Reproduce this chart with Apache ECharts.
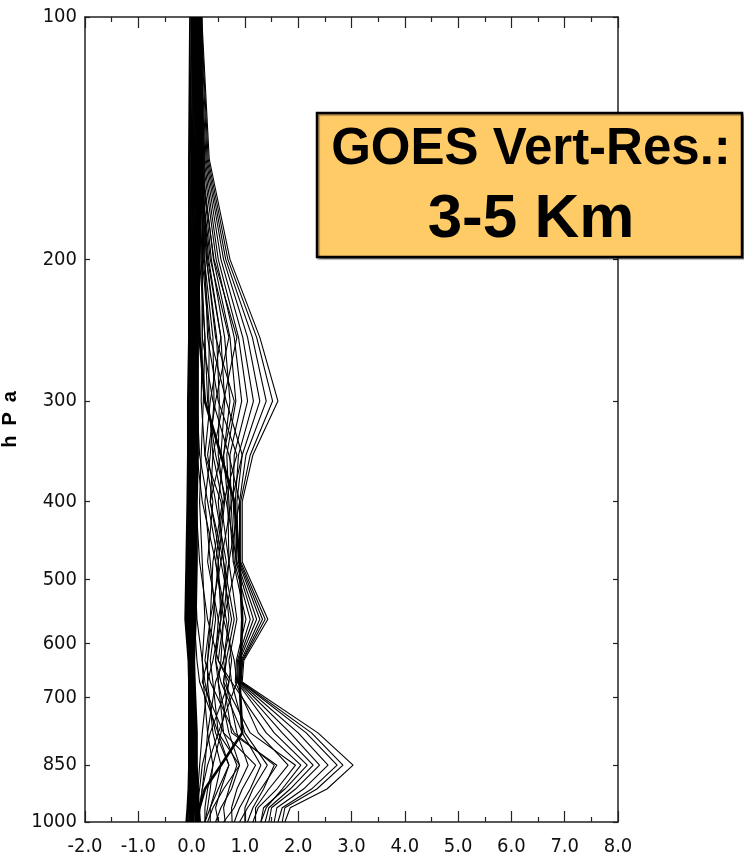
<!DOCTYPE html>
<html>
<head>
<meta charset="utf-8">
<title>GOES weighting functions</title>
<script src="https://cdn.jsdelivr.net/npm/echarts@6/dist/echarts.min.js"></script>
<style>
  html, body { margin: 0; padding: 0; background: #ffffff; }
  #chart { width: 744px; height: 863px; }
</style>
</head>
<body>
<div id="chart"></div>
<script>
// Pressure levels (hPa) shared by every curve
const levels = [100, 150, 200, 250, 300, 350, 400, 475, 560, 630, 670, 775, 850, 910, 960, 1000];

// Axis ticks / labels
const xTicks = [-2, -1, 0, 1, 2, 3, 4, 5, 6, 7, 8];
const pressureTicks = [100, 200, 300, 400, 500, 600, 700, 850, 1000];

// Near-zero curves forming the dark band along x = 0
const b01 = [-0.03, -0.05, -0.05, -0.05, -0.07, -0.07, -0.08, -0.10, -0.12, -0.06, -0.05, -0.05, -0.05, -0.06, -0.08, -0.10];
const b02 = [0.00, -0.03, -0.03, -0.04, -0.05, -0.05, -0.06, -0.08, -0.10, -0.05, -0.04, -0.04, -0.04, -0.05, -0.06, -0.08];
const b03 = [0.02, 0.00, -0.02, -0.02, -0.03, -0.03, -0.04, -0.06, -0.08, -0.04, -0.03, -0.03, -0.03, -0.03, -0.04, -0.05];
const b04 = [0.04, 0.02, 0.00, -0.01, -0.01, -0.02, -0.03, -0.04, -0.06, -0.03, -0.02, -0.02, -0.02, -0.02, -0.02, -0.03];
const b05 = [0.06, 0.04, 0.02, 0.01, 0.00, 0.00, -0.01, -0.02, -0.04, -0.02, -0.01, -0.01, 0.00, -0.01, 0.00, -0.01];
const b06 = [0.08, 0.06, 0.03, 0.02, 0.02, 0.01, 0.00, -0.01, -0.02, -0.01, 0.00, 0.00, 0.01, 0.01, 0.02, 0.02];
const b07 = [0.10, 0.08, 0.05, 0.04, 0.03, 0.03, 0.02, 0.01, 0.00, 0.00, 0.01, 0.02, 0.02, 0.03, 0.04, 0.04];
const b08 = [0.12, 0.10, 0.07, 0.05, 0.05, 0.04, 0.03, 0.02, 0.01, 0.01, 0.02, 0.03, 0.04, 0.05, 0.06, 0.07];
const b09 = [0.14, 0.12, 0.08, 0.07, 0.07, 0.06, 0.05, 0.04, 0.03, 0.02, 0.03, 0.05, 0.05, 0.06, 0.08, 0.09];
const b10 = [0.16, 0.14, 0.10, 0.09, 0.09, 0.08, 0.07, 0.06, 0.05, 0.03, 0.04, 0.06, 0.07, 0.08, 0.10, 0.12];
const b11 = [0.18, 0.17, 0.12, 0.11, 0.10, 0.10, 0.08, 0.08, 0.06, 0.04, 0.05, 0.08, 0.08, 0.10, 0.12, 0.14];
const b12 = [0.19, 0.20, 0.14, 0.12, 0.12, 0.12, 0.10, 0.10, 0.08, 0.05, 0.06, 0.10, 0.10, 0.12, 0.14, 0.16];

// Three-lobed curves (upper ~300 hPa, middle ~560 hPa, lower ~850 hPa)
const m01 = [0.00, 0.10, 0.15, 0.25, 0.22, 0.18, 0.15, 0.20, 0.25, 0.20, 0.22, 0.30, 0.40, 0.30, 0.25, 0.25];
const m02 = [0.02, 0.12, 0.20, 0.33, 0.32, 0.40, 0.58, 0.40, 0.35, 0.30, 0.30, 0.40, 0.55, 0.45, 0.35, 0.35];
const m03 = [0.03, 0.13, 0.24, 0.40, 0.42, 0.35, 0.25, 0.35, 0.45, 0.35, 0.40, 0.50, 0.70, 0.55, 0.45, 0.50];
const m04 = [0.05, 0.15, 0.28, 0.47, 0.52, 0.50, 0.62, 0.50, 0.55, 0.45, 0.50, 0.60, 0.85, 0.70, 0.60, 0.63];
const m05 = [0.06, 0.16, 0.32, 0.55, 0.62, 0.55, 0.35, 0.60, 0.70, 0.60, 0.65, 0.85, 1.06, 0.85, 0.75, 0.76];
const m06 = [0.08, 0.18, 0.37, 0.62, 0.72, 0.60, 0.68, 0.70, 0.85, 0.70, 0.75, 1.00, 1.42, 1.15, 1.00, 1.00];
const m07 = [0.09, 0.19, 0.41, 0.72, 0.83, 0.66, 0.70, 0.78, 1.02, 0.84, 0.82, 1.25, 1.81, 1.45, 1.20, 1.20];
const m08 = [0.11, 0.21, 0.46, 0.80, 0.94, 0.72, 0.74, 0.80, 1.10, 0.86, 0.85, 1.55, 2.17, 1.75, 1.35, 1.30];
const m09 = [0.12, 0.23, 0.50, 0.88, 1.05, 0.80, 0.78, 0.83, 1.16, 0.88, 0.86, 1.70, 2.28, 1.85, 1.45, 1.38];
const m10 = [0.14, 0.25, 0.55, 0.96, 1.16, 0.88, 0.82, 0.85, 1.22, 0.90, 0.88, 1.85, 2.40, 1.95, 1.50, 1.45];
const m11 = [0.15, 0.27, 0.60, 1.05, 1.28, 0.95, 0.85, 0.88, 1.28, 0.93, 0.90, 2.00, 2.56, 2.10, 1.60, 1.55];
const m12 = [0.17, 0.29, 0.64, 1.14, 1.40, 1.02, 0.90, 0.90, 1.33, 0.95, 0.92, 2.15, 2.73, 2.25, 1.70, 1.62];
const m13 = [0.18, 0.31, 0.68, 1.22, 1.52, 1.10, 0.92, 0.92, 1.38, 0.96, 0.93, 2.25, 2.84, 2.35, 1.75, 1.70];
const m14 = [0.19, 0.33, 0.72, 1.28, 1.62, 1.15, 0.95, 0.95, 1.43, 0.98, 0.95, 2.37, 3.03, 2.54, 1.85, 1.75];

// Curves peaking at 250-400 hPa that weave through the upper and middle lobes
const u01 = [0.05, 0.14, 0.35, 0.70, 0.45, 0.30, 0.45, 0.65, 0.55, 0.40, 0.30, 0.20, 0.15, 0.12, 0.10, 0.10];
const u02 = [0.07, 0.16, 0.42, 0.85, 0.60, 0.40, 0.35, 0.55, 0.75, 0.60, 0.45, 0.30, 0.25, 0.20, 0.15, 0.12];
const u03 = [0.09, 0.18, 0.30, 0.55, 0.35, 0.25, 0.55, 0.70, 0.60, 0.55, 0.50, 0.70, 0.90, 0.75, 0.55, 0.45];
const u04 = [0.11, 0.20, 0.25, 0.30, 0.50, 0.85, 0.60, 0.45, 0.65, 0.75, 0.70, 0.55, 0.40, 0.35, 0.30, 0.25];
const u05 = [0.13, 0.22, 0.20, 0.20, 0.40, 0.70, 0.90, 0.70, 0.50, 0.45, 0.55, 0.95, 1.30, 1.10, 0.90, 0.80];
const u06 = [0.15, 0.24, 0.22, 0.35, 0.65, 0.95, 0.75, 0.55, 0.35, 0.25, 0.35, 0.80, 1.55, 1.35, 1.15, 1.05];
const u07 = [0.12, 0.20, 0.28, 0.45, 0.80, 0.60, 0.50, 0.60, 0.80, 0.65, 0.60, 1.10, 1.95, 1.60, 1.25, 1.15];
const u08 = [0.08, 0.15, 0.18, 0.25, 0.30, 0.45, 0.65, 0.85, 0.60, 0.50, 0.75, 1.40, 2.05, 1.70, 1.40, 1.30];

// Curves criss-crossing between the band and the lobes
const x01 = [0.10, 0.12, 0.08, 0.05, 0.05, 0.05, 0.05, 0.05, 0.05, 0.10, 0.15, 0.50, 0.90, 0.60, 0.40, 0.30];
const x02 = [0.12, 0.15, 0.10, 0.06, 0.05, 0.05, 0.05, 0.06, 0.10, 0.20, 0.25, 0.45, 0.70, 0.50, 0.35, 0.25];
const x03 = [0.14, 0.16, 0.12, 0.08, 0.06, 0.06, 0.08, 0.15, 0.30, 0.50, 0.70, 0.35, 0.20, 0.15, 0.10, 0.08];
const x04 = [0.15, 0.18, 0.14, 0.10, 0.08, 0.10, 0.20, 0.45, 0.60, 0.80, 0.85, 0.50, 0.30, 0.20, 0.15, 0.12];
const x05 = [0.16, 0.20, 0.16, 0.12, 0.10, 0.15, 0.30, 0.50, 0.40, 0.30, 0.20, 0.60, 1.20, 0.95, 0.80, 0.60];
const x06 = [0.17, 0.20, 0.20, 0.20, 0.18, 0.25, 0.40, 0.30, 0.50, 0.65, 0.60, 0.75, 1.60, 1.30, 1.05, 0.90];

// Broad mid-level curve drawn heavier
const t01 = [0.10, 0.12, 0.12, 0.15, 0.25, 0.55, 0.80, 0.90, 0.95, 0.92, 0.90, 0.95, 0.55, 0.25, 0.15, 0.10];

const bandCurves = [b01, b02, b03, b04, b05, b06, b07, b08, b09, b10, b11, b12];
const thinCurves = [m01, m02, m03, m04, m05, m06, m07, m08, m09, m10, m11, m12, m13, m14,
  u01, u02, u03, u04, u05, u06, u07, u08,
  x01, x02, x03, x04, x05, x06];
const heavyCurves = [t01];

const tickFont = "'Liberation Sans Narrow', 'DejaVu Sans Condensed', 'Liberation Sans', sans-serif";
const boldFont = "'Liberation Sans', Arial, sans-serif";

function toSeries(curve, width) {
  return {
    type: 'line',
    xAxisIndex: 0,
    yAxisIndex: 0,
    data: curve.map((x, i) => [x, levels[i]]),
    showSymbol: false,
    symbol: 'none',
    silent: true,
    lineStyle: { color: '#000000', width: width },
    z: 2
  };
}

const series = bandCurves.map(c => toSeries(c, 1.8))
  .concat(thinCurves.map(c => toSeries(c, 1.1)))
  .concat(heavyCurves.map(c => toSeries(c, 2.6)));

const chart = echarts.init(document.getElementById('chart'), null, { renderer: 'canvas' });

const frameLine = { show: true, onZero: false, lineStyle: { color: '#222222', width: 1.5 } };

chart.setOption({
  animation: false,
  backgroundColor: '#ffffff',
  grid: { left: 85, right: 126, top: 17, bottom: 41, outerBoundsMode: 'none', containLabel: false },
  xAxis: [
    {
      type: 'value', position: 'bottom', min: -2, max: 8, interval: 1,
      axisLine: frameLine,
      axisTick: { show: true, inside: true, length: 11, lineStyle: { color: '#222222', width: 1.2 } },
      minorTick: { show: true, splitNumber: 2, length: 5, lineStyle: { color: '#222222', width: 1.2 } },
      splitLine: { show: false },
      minorSplitLine: { show: false },
      axisLabel: {
        show: true, margin: 15, color: '#111111', fontFamily: tickFont, fontSize: 20,
        customValues: xTicks,
        formatter: v => v.toFixed(1)
      }
    },
    {
      type: 'value', position: 'top', min: -2, max: 8, interval: 1,
      axisLine: frameLine,
      axisTick: { show: true, inside: true, length: 11, lineStyle: { color: '#222222', width: 1.2 } },
      minorTick: { show: true, splitNumber: 2, length: 5, lineStyle: { color: '#222222', width: 1.2 } },
      splitLine: { show: false },
      axisLabel: { show: false }
    }
  ],
  yAxis: [
    {
      type: 'log', logBase: 10, position: 'left', min: 100, max: 1000, inverse: true,
      axisLine: frameLine,
      axisTick: { show: true, inside: true, length: 5, customValues: pressureTicks, lineStyle: { color: '#222222', width: 1.2 } },
      splitLine: { show: false },
      axisLabel: {
        show: true, margin: 8, color: '#111111', fontFamily: tickFont, fontSize: 20,
        customValues: pressureTicks,
        formatter: v => String(Math.round(v))
      },
      name: '{l|h}{l|P}{l|a}',
      nameLocation: 'middle',
      nameRotate: 90,
      nameGap: 46,
      nameTextStyle: {
        fontFamily: boldFont, fontWeight: 'bold', fontSize: 20, color: '#000000',
        rich: {
          l: { fontFamily: boldFont, fontWeight: 'bold', fontSize: 20, color: '#000000', padding: [0, 5, 0, 5] }
        }
      }
    },
    {
      type: 'log', logBase: 10, position: 'right', min: 100, max: 1000, inverse: true,
      axisLine: frameLine,
      axisTick: { show: true, inside: true, length: 5, customValues: pressureTicks, lineStyle: { color: '#222222', width: 1.2 } },
      splitLine: { show: false },
      axisLabel: { show: false }
    }
  ],
  series: series,
  graphic: [
    {
      type: 'rect',
      z: 100,
      shape: { x: 317, y: 113, width: 425, height: 144 },
      style: {
        fill: '#FFCB66', stroke: '#000000', lineWidth: 2.5,
        shadowColor: 'rgba(0,0,0,0.35)', shadowOffsetX: 1.5, shadowOffsetY: 1.5, shadowBlur: 1
      }
    },
    {
      type: 'text',
      z: 101,
      x: 531, y: 150,
      style: {
        text: 'GOES Vert-Res.:', fill: '#000000',
        font: "bold 51px 'Liberation Sans', Arial, sans-serif",
        align: 'center', verticalAlign: 'middle'
      }
    },
    {
      type: 'text',
      z: 101,
      x: 531, y: 220,
      style: {
        text: '3-5 Km', fill: '#000000',
        font: "bold 62px 'Liberation Sans', Arial, sans-serif",
        align: 'center', verticalAlign: 'middle'
      }
    }
  ]
});
</script>
</body>
</html>
